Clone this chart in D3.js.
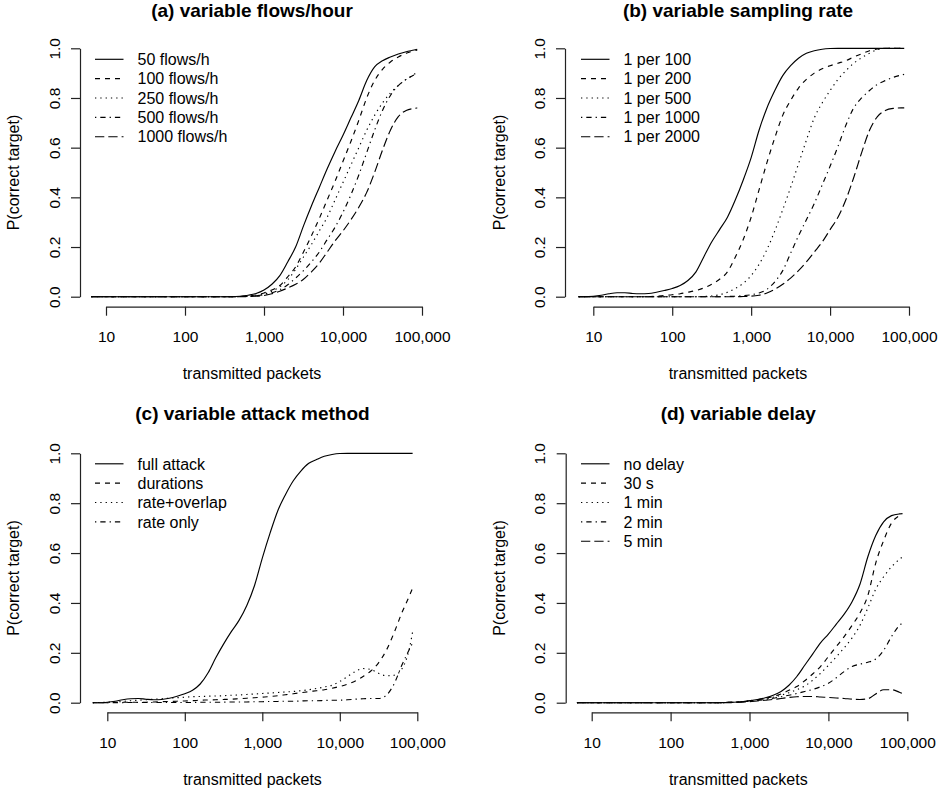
<!DOCTYPE html>
<html><head><meta charset="utf-8">
<script src="https://cdn.jsdelivr.net/npm/d3@7/dist/d3.min.js"></script>
<style>
body{margin:0;background:#fff}
svg{display:block}
text{font-family:"Liberation Sans",Arial,Helvetica,sans-serif;fill:#000}
</style>
</head><body>
<svg id="chart" width="949" height="794"></svg>
<script>
// ---------- DATA ----------
const packets = [6.5, 7.9, 10, 12.6, 15.8, 20, 25.1, 31.6, 39.8, 50.1, 63.1, 79.4,
  100, 126, 158, 200, 251, 316, 398, 501, 631, 794,
  1000, 1259, 1585, 1995, 2512, 3162, 3981, 5012, 6310, 7943,
  10000, 12589, 15849, 19953, 25119, 31623, 39811, 50119, 63096, 79433, 87000];

const xTickValues = [10, 100, 1000, 10000, 100000];
const xTickLabels = ["10", "100", "1,000", "10,000", "100,000"];
const yTickValues = [0, 0.2, 0.4, 0.6, 0.8, 1.0];
const yTickLabels = ["0.0", "0.2", "0.4", "0.6", "0.8", "1.0"];

const titles = ["(a) variable flows/hour", "(b) variable sampling rate",
                "(c) variable attack method", "(d) variable delay"];
const xLabel = "transmitted packets";
const yLabel = "P(correct target)";

const namesA = ["50 flows/h", "100 flows/h", "250 flows/h", "500 flows/h", "1000 flows/h"];
const namesB = ["1 per 100", "1 per 200", "1 per 500", "1 per 1000", "1 per 2000"];
const namesC = ["full attack", "durations", "rate+overlap", "rate only"];
const namesD = ["no delay", "30 s", "1 min", "2 min", "5 min"];

// (a) variable flows/hour
const flows50   = [0,0,0,0,0,0,0,0,0,0,0,0,0,0,0,0,0,0,0, 0.002,0.006,0.013,0.027,0.05,0.085,0.14,0.2,0.285,0.365,0.44,0.515,0.585,0.65,0.72,0.79,0.87,0.925,0.95,0.965,0.977,0.986,0.993,0.996];
const flows100  = [0,0,0,0,0,0,0,0,0,0,0,0,0,0,0,0,0,0,0, 0.001,0.003,0.007,0.015,0.027,0.045,0.08,0.12,0.18,0.245,0.315,0.39,0.465,0.545,0.625,0.71,0.8,0.87,0.915,0.945,0.965,0.98,0.99,0.993];
const flows250  = [0,0,0,0,0,0,0,0,0,0,0,0,0,0,0,0,0,0,0, 0.001,0.002,0.005,0.011,0.022,0.04,0.068,0.11,0.16,0.21,0.265,0.32,0.39,0.46,0.53,0.6,0.67,0.73,0.78,0.82,0.85,0.875,0.895,0.905];
const flows500  = [0,0,0,0,0,0,0,0,0,0,0,0,0,0,0,0,0,0,0, 0.001,0.002,0.004,0.008,0.016,0.028,0.048,0.075,0.105,0.14,0.18,0.23,0.28,0.34,0.41,0.49,0.58,0.67,0.75,0.81,0.85,0.875,0.893,0.9];
const flows1000 = [0,0,0,0,0,0,0,0,0,0,0,0,0,0,0,0,0,0,0, 0,0.001,0.002,0.005,0.012,0.022,0.035,0.05,0.07,0.1,0.135,0.18,0.225,0.265,0.31,0.36,0.42,0.5,0.59,0.67,0.725,0.75,0.758,0.76];

// (b) variable sampling rate
const per100  = [0,0,0.002,0.006,0.012,0.016,0.016,0.013,0.012,0.013,0.018,0.025,0.033,0.045,0.065,0.1,0.16,0.22,0.27,0.32,0.39,0.47,0.56,0.67,0.76,0.83,0.89,0.93,0.96,0.98,0.99,0.996,0.999,1,1,1,1,1,1,1,1,1,1];
const per200  = [0,0,0,0,0,0,0,0,0,0, 0.002,0.005,0.008,0.012,0.018,0.025,0.035,0.05,0.07,0.1,0.16,0.23,0.32,0.43,0.54,0.64,0.73,0.79,0.84,0.875,0.9,0.918,0.93,0.94,0.95,0.965,0.978,0.99,0.997,1,1,1,1];
const per500  = [0,0,0,0,0,0,0,0,0,0,0,0,0,0,0,0, 0.001,0.003,0.008,0.018,0.033,0.054,0.085,0.13,0.19,0.265,0.35,0.44,0.535,0.63,0.72,0.78,0.83,0.875,0.91,0.94,0.962,0.98,0.995,1,1,1,1];
const per1000 = [0,0,0,0,0,0,0,0,0,0,0,0,0,0,0,0,0,0,0, 0.001,0.002,0.004,0.008,0.015,0.03,0.06,0.105,0.175,0.245,0.31,0.375,0.45,0.525,0.605,0.69,0.76,0.8,0.83,0.855,0.87,0.883,0.892,0.895];
const per2000 = [0,0,0,0,0,0,0,0,0,0,0,0,0,0,0,0,0,0,0, 0,0,0.001,0.002,0.006,0.015,0.03,0.05,0.075,0.105,0.14,0.18,0.22,0.27,0.32,0.39,0.48,0.58,0.67,0.725,0.75,0.758,0.76,0.76];

// (c) variable attack method
const fullAttack  = [0,0,0.002,0.006,0.012,0.016,0.017,0.014,0.012,0.013,0.018,0.026,0.036,0.05,0.075,0.12,0.18,0.235,0.285,0.33,0.39,0.47,0.58,0.68,0.77,0.835,0.89,0.93,0.96,0.975,0.988,0.995,0.999,1,1,1,1,1,1,1,1,1,1];
const durations   = [0,0,0,0.001,0.002,0.002,0.002,0.002,0.003,0.004,0.005,0.006,0.007,0.008,0.01,0.011,0.012,0.013,0.014,0.016,0.018,0.02,0.022,0.025,0.028,0.032,0.036,0.04,0.044,0.048,0.052,0.058,0.065,0.074,0.087,0.105,0.127,0.16,0.21,0.28,0.36,0.43,0.46];
const rateOverlap = [0,0.001,0.002,0.003,0.005,0.008,0.01,0.012,0.014,0.016,0.018,0.02,0.022,0.024,0.025,0.026,0.027,0.028,0.03,0.031,0.033,0.035,0.037,0.039,0.041,0.043,0.045,0.048,0.052,0.057,0.063,0.07,0.085,0.105,0.125,0.137,0.133,0.118,0.108,0.11,0.135,0.22,0.285];
const rateOnly    = [0,0,0,0,0,0.001,0.001,0.001,0.001,0.001,0.001,0.001,0.001,0.001,0.002,0.002,0.002,0.002,0.003,0.003,0.003,0.004,0.004,0.005,0.005,0.006,0.006,0.007,0.008,0.008,0.009,0.01,0.01,0.012,0.014,0.016,0.017,0.017,0.03,0.075,0.15,0.215,0.24];

// (d) variable delay
const noDelay = [0,0,0,0,0,0,0,0,0,0,0,0,0,0,0,0,0,0,0, 0.001,0.002,0.004,0.008,0.013,0.02,0.03,0.045,0.07,0.105,0.15,0.195,0.24,0.275,0.315,0.355,0.405,0.475,0.585,0.67,0.725,0.75,0.757,0.758];
const delay30s = [0,0,0,0,0,0,0,0,0,0,0,0,0,0,0,0,0,0,0, 0.001,0.002,0.004,0.008,0.012,0.018,0.025,0.035,0.05,0.065,0.088,0.115,0.145,0.185,0.225,0.265,0.31,0.36,0.43,0.56,0.65,0.72,0.75,0.755];
const delay1m  = [0,0,0,0,0,0,0,0,0,0,0,0,0,0,0,0,0,0,0, 0.001,0.002,0.004,0.007,0.011,0.016,0.022,0.03,0.04,0.052,0.067,0.09,0.118,0.15,0.184,0.22,0.26,0.31,0.38,0.455,0.505,0.545,0.575,0.585];
const delay2m  = [0,0,0,0,0,0,0,0,0,0,0,0,0,0,0,0,0,0,0, 0.001,0.002,0.004,0.006,0.009,0.013,0.018,0.024,0.03,0.037,0.045,0.053,0.064,0.078,0.1,0.125,0.145,0.155,0.162,0.175,0.21,0.265,0.31,0.32];
const delay5m  = [0,0,0,0,0,0,0,0,0,0,0,0,0,0,0,0,0,0,0, 0,0.001,0.002,0.004,0.007,0.01,0.013,0.017,0.021,0.024,0.025,0.025,0.023,0.021,0.019,0.017,0.014,0.013,0.016,0.035,0.052,0.052,0.042,0.037];

// ---------- LAYOUT / STYLE ----------
const dashes = [null, "5,5", "1.3,4", "1.3,4,5.3,4", "9.3,4"];
const panels = [
  {title: titles[0], names: namesA, series: [flows50, flows100, flows250, flows500, flows1000],
   xr: [106, 422], yr: [296.7, 48.3], axX: 80, axY: 306.7, cx: 252, titleY: 17.3,
   legX: 95, legTextX: 137.5, legY: 59.3, ylabX: 18.6, ytickOff: -20.3, xtickY: 35.6, xlabY: 379},
  {title: titles[1], names: namesB, series: [per100, per200, per500, per1000, per2000],
   xr: [593.3, 909], yr: [296.7, 48.3], axX: 565, axY: 306.7, cx: 738, titleY: 17.3,
   legX: 581, legTextX: 623.5, legY: 59.3, ylabX: 505, ytickOff: -20.3, xtickY: 35.6, xlabY: 379},
  {title: titles[2], names: namesC, series: [fullAttack, durations, rateOverlap, rateOnly],
   xr: [107.3, 417.3], yr: [702.7, 453.3], axX: 80, axY: 712.3, cx: 252.5, titleY: 420,
   legX: 95, legTextX: 137.5, legY: 463.8, ylabX: 18.8, ytickOff: -20.3, xtickY: 35.4, xlabY: 784.5},
  {title: titles[3], names: namesD, series: [noDelay, delay30s, delay1m, delay2m, delay5m],
   xr: [591.7, 907.3], yr: [702.7, 453.3], axX: 565.7, axY: 712.3, cx: 738.3, titleY: 420,
   legX: 581, legTextX: 623.5, legY: 463.8, ylabX: 505, ytickOff: -20.3, xtickY: 35.4, xlabY: 784.5}
];
const legStep = 19.35, legLen = 28.5;

const svg = d3.select("#chart");

panels.forEach(p => {
  const g = svg.append("g");
  const x = d3.scaleLog().domain([10, 100000]).range(p.xr);
  const y = d3.scaleLinear().domain([0, 1]).range(p.yr);

  // title
  g.append("text").attr("x", p.cx).attr("y", p.titleY).attr("text-anchor", "middle")
    .style("font-size", "19px").style("font-weight", "bold").text(p.title);

  // x axis
  const xa = g.append("g").attr("transform", `translate(0,${p.axY})`)
    .call(d3.axisBottom(x).tickValues(xTickValues).tickFormat((d, i) => xTickLabels[i])
      .tickSizeInner(9).tickSizeOuter(0));
  xa.attr("font-size", null).attr("font-family", null);
  xa.select(".domain").attr("stroke", "#222").attr("stroke-width", 1.2);
  xa.selectAll(".tick line").attr("stroke", "#222").attr("stroke-width", 1.2);
  xa.selectAll(".tick text").attr("y", p.xtickY).attr("dy", null)
    .style("font-size", "15.5px");

  // y axis
  const ya = g.append("g").attr("transform", `translate(${p.axX},0)`)
    .call(d3.axisLeft(y).tickValues(yTickValues).tickFormat((d, i) => yTickLabels[i])
      .tickSizeInner(9).tickSizeOuter(0));
  ya.attr("font-size", null).attr("font-family", null);
  ya.select(".domain").attr("stroke", "#222").attr("stroke-width", 1.2);
  ya.selectAll(".tick line").attr("stroke", "#222").attr("stroke-width", 1.2);
  ya.selectAll(".tick text").attr("x", null).attr("dy", null).attr("text-anchor", "middle")
    .attr("transform", `translate(${p.ytickOff},0) rotate(-90)`)
    .style("font-size", "15.5px");

  // axis labels
  g.append("text").attr("x", p.cx).attr("y", p.xlabY).attr("text-anchor", "middle")
    .style("font-size", "16px").text(xLabel);
  const ymid = (p.yr[0] + p.yr[1]) / 2;
  g.append("text").attr("transform", `translate(${p.ylabX},${ymid}) rotate(-90)`)
    .attr("text-anchor", "middle").style("font-size", "16px").text(yLabel);

  // curves
  const line = d3.line().x(d => x(d[0])).y(d => y(d[1])).curve(d3.curveMonotoneX);
  p.series.forEach((s, k) => {
    const pts = packets.map((pk, i) => [pk, s[i]]);
    g.append("path").attr("d", line(pts)).attr("fill", "none")
      .attr("stroke", "#000").attr("stroke-width", 1.15)
      .attr("stroke-dasharray", dashes[k]);
  });

  // legend
  p.names.forEach((n, k) => {
    const ly = p.legY + k * legStep;
    g.append("line").attr("x1", p.legX).attr("x2", p.legX + legLen).attr("y1", ly).attr("y2", ly)
      .attr("stroke", "#000").attr("stroke-width", 1.15).attr("stroke-dasharray", dashes[k]);
    g.append("text").attr("x", p.legTextX).attr("y", ly + 5.7).style("font-size", "16px").text(n);
  });
});
</script>
</body></html>
